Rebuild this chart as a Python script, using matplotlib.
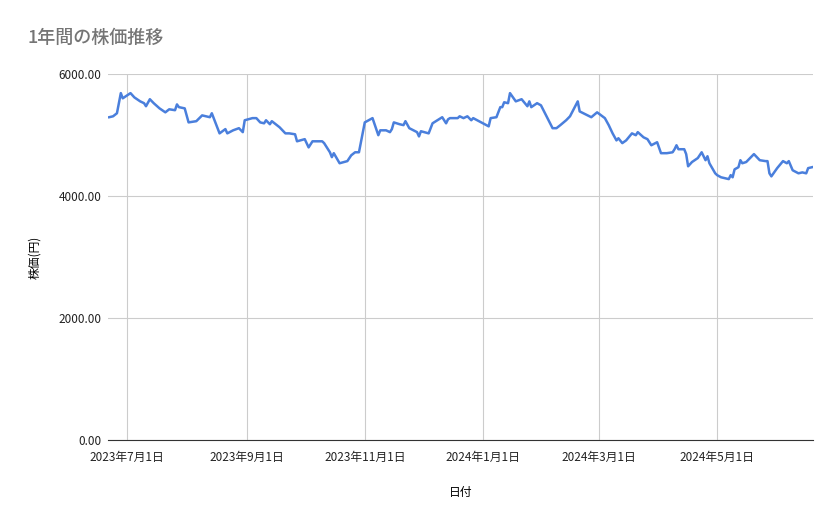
import matplotlib
matplotlib.use("Agg")
import matplotlib.pyplot as plt
import pandas as pd

plt.rcParams['font.family'] = ['Noto Sans CJK JP', 'DejaVu Sans']

# days since 2023-07-01
day_offsets = [-9,-7,-5,-3,-2,2,4,7,9,10,12,14,17,20,22,25,26,27,30,32,36,39,43,44,48,51,52,55,58,60,61,65,67,69,71,72,74,75,79,82,84,87,88,92,94,96,101,102,105,106,107,110,114,116,118,120,123,127,130,131,134,136,137,138,141,143,144,146,150,151,152,156,158,163,165,166,
               167,171,172,174,176,178,179,187,188,191,193,194,195,197,198,201,204,207,208,209,212,214,220,222,224,227,229,233,234,240,243,247,249,251,253,254,256,258,261,263,264,267,269,271,274,276,279,282,283,284,285,288,289,290,292,295,297,299,300,301,304,305,307,311,312,313,314,316,317,318,320,324,327,330,331,332,333,336,339,341,342,344,347,349,351,352,354]
prices = [5295,5310,5360,5690,5605,5690,5620,5555,5525,5475,5590,5525,5440,5375,5425,5410,5505,5460,5440,5210,5230,5325,5295,5360,5030,5100,5030,5080,5115,5050,5245,5280,5280,5210,5195,5245,5180,5230,5130,5030,5030,5015,4900,4935,4800,4900,4900,4870,4720,4640,4705,4540,4575,4670,4720,4720,5210,5280,5000,5080,5080,5050,5100,5210,5180,5165,5230,5115,5050,4980,5065,5030,5195,5295,5195,5260,
          5280,5280,5310,5280,5310,5245,5280,5145,5280,5295,5460,5460,5540,5525,5690,5555,5590,5475,5555,5460,5525,5490,5115,5115,5165,5245,5310,5555,5390,5295,5375,5280,5165,5030,4915,4950,4870,4915,5030,5000,5050,4965,4935,4835,4885,4705,4705,4720,4770,4835,4770,4770,4690,4490,4560,4625,4720,4590,4655,4540,4375,4345,4310,4280,4345,4310,4440,4475,4590,4540,4560,4690,4590,4575,4575,4375,4325,4460,4575,4540,4575,4425,4375,4390,4375,4460,4475]
tick_dates = ['2023-07-01','2023-09-01','2023-11-01','2024-01-01','2024-03-01','2024-05-01']
tick_labels = ['2023年7月1日','2023年9月1日','2023年11月1日','2024年1月1日','2024年3月1日','2024年5月1日']
y_ticks = [0, 2000, 4000, 6000]

base = pd.Timestamp('2023-07-01')
dates = [base + pd.Timedelta(days=d) for d in day_offsets]

fig = plt.figure(figsize=(8.39, 5.19), dpi=100)
ax = fig.add_axes([0.129, 0.152, 0.84, 0.705])
ax.plot(dates, prices, color='#4a7fdc', lw=1.8)
ax.set_xlim(base + pd.Timedelta(days=-9.5), base + pd.Timedelta(days=354.5))
ax.set_ylim(0, 6000)
ax.set_xticks(pd.to_datetime(tick_dates))
ax.set_xticklabels(tick_labels, fontsize=8.5, color='#222222')
ax.set_yticks(y_ticks)
ax.set_yticklabels([f'{v:.2f}' for v in y_ticks], fontsize=8.5, color='#222222')
ax.grid(True, color='#cccccc', lw=0.8)
ax.tick_params(axis='y', length=0, pad=5)
ax.tick_params(axis='x', length=0, pad=8)
for s in ['top', 'right', 'left']:
    ax.spines[s].set_visible(False)
ax.spines['bottom'].set_color('#333333')
ax.set_xlabel('日付', fontsize=8.5, labelpad=16)
ax.set_ylabel('株価(円)', fontsize=8.5, labelpad=12)
fig.text(0.033, 0.926, '1年間の株価推移', fontsize=13, color='#757575', va='center', fontweight='medium')
fig.savefig('out.png', dpi=100)
